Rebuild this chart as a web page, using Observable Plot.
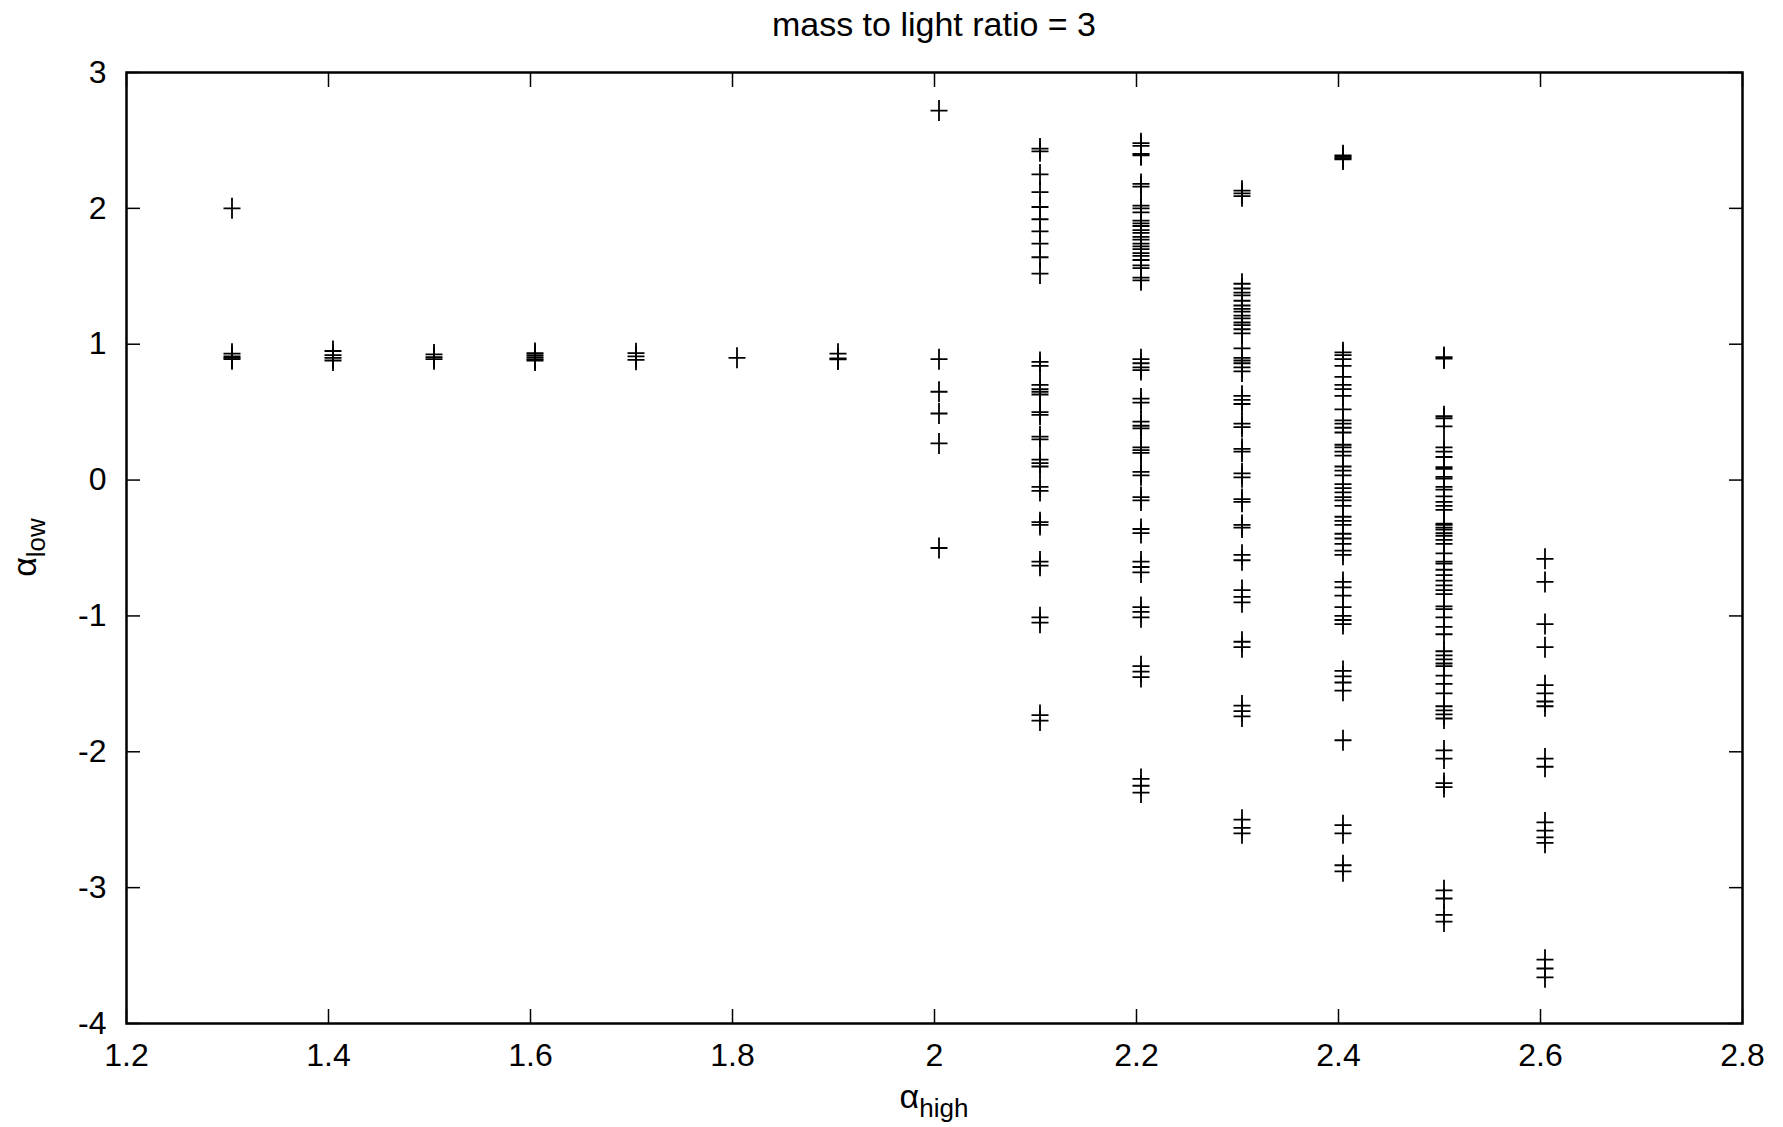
<!DOCTYPE html>
<html><head><meta charset="utf-8">
<script src="https://cdn.jsdelivr.net/npm/d3@7"></script>
<script src="https://cdn.jsdelivr.net/npm/@observablehq/plot@0.6"></script>
<style>
html,body{margin:0;padding:0;background:#fff;overflow:hidden;}
#title{height:50px;margin-left:126px;width:1616px;text-align:center;font:34px "Liberation Sans",Arial,sans-serif;line-height:48px;color:#000;}
#chart svg{display:block;}
</style></head><body>
<div id="title">mass to light ratio = 3</div>
<div id="chart"></div>
<script>
// alpha_high values of each column
const alphaHigh = [1.3, 1.4, 1.5, 1.6, 1.7, 1.8, 1.9, 2.0, 2.1, 2.2, 2.3, 2.4, 2.5, 2.6];
// alpha_low values read per column
const col13 = [2.0, 0.93, 0.91, 0.90, 0.89];
const col14 = [0.95, 0.92, 0.90, 0.88];
const col15 = [0.925, 0.905, 0.89];
const col16 = [0.935, 0.92, 0.905, 0.89, 0.88];
const col17 = [0.934, 0.91, 0.885];
const col18 = [0.90];
const col19 = [0.93, 0.895, 0.888];
const col20 = [2.72, 0.89, 0.65, 0.49, 0.27, -0.50];
const col21 = [2.44, 2.42, 2.25, 2.12, 2.01, 1.92, 1.83, 1.74, 1.64, 1.52, 0.87, 0.84, 0.70, 0.67, 0.65, 0.63, 0.50, 0.48, 0.32, 0.30, 0.15, 0.125, 0.10, -0.05, -0.08, -0.31, -0.33, -0.60, -0.63, -1.01, -1.05, -1.73, -1.77];
const col22 = [2.48, 2.46, 2.40, 2.39, 2.18, 2.16, 2.02, 2.00, 1.97, 1.91, 1.89, 1.87, 1.84, 1.82, 1.79, 1.77, 1.74, 1.72, 1.70, 1.67, 1.65, 1.62, 1.58, 1.56, 1.49, 1.47, 0.89, 0.86, 0.83, 0.81, 0.60, 0.57, 0.43, 0.40, 0.38, 0.24, 0.22, 0.20, 0.06, 0.035, -0.125, -0.15, -0.36, -0.39, -0.60, -0.64, -0.68, -0.935, -0.97, -1.01, -1.37, -1.41, -1.45, -2.20, -2.25, -2.30];
const col23 = [2.13, 2.11, 2.09, 1.445, 1.41, 1.38, 1.36, 1.32, 1.285, 1.26, 1.24, 1.21, 1.19, 1.16, 1.14, 1.11, 1.08, 0.97, 0.90, 0.88, 0.86, 0.83, 0.80, 0.62, 0.59, 0.56, 0.415, 0.39, 0.23, 0.21, 0.05, 0.02, -0.14, -0.16, -0.33, -0.35, -0.55, -0.59, -0.81, -0.86, -0.90, -1.19, -1.23, -1.66, -1.70, -1.74, -2.50, -2.56, -2.60];
const col24 = [2.39, 2.38, 2.37, 2.36, 0.94, 0.92, 0.89, 0.84, 0.76, 0.70, 0.67, 0.62, 0.52, 0.44, 0.415, 0.385, 0.35, 0.26, 0.24, 0.21, 0.18, 0.10, 0.07, 0.035, -0.03, -0.06, -0.09, -0.125, -0.15, -0.19, -0.27, -0.30, -0.33, -0.395, -0.43, -0.47, -0.52, -0.55, -0.75, -0.79, -0.85, -0.935, -1.00, -1.03, -1.06, -1.405, -1.445, -1.49, -1.55, -1.915, -2.54, -2.60, -2.835, -2.88];
const col25 = [0.905, 0.895, 0.47, 0.455, 0.395, 0.24, 0.21, 0.17, 0.095, 0.083, 0.023, 0.011, -0.05, -0.07, -0.12, -0.16, -0.19, -0.22, -0.32, -0.33, -0.35, -0.365, -0.39, -0.41, -0.44, -0.47, -0.54, -0.60, -0.615, -0.66, -0.70, -0.74, -0.775, -0.81, -0.84, -0.93, -0.95, -1.01, -1.08, -1.135, -1.26, -1.29, -1.32, -1.35, -1.37, -1.44, -1.50, -1.57, -1.665, -1.695, -1.725, -1.755, -1.99, -2.05, -2.23, -2.26, -3.02, -3.08, -3.20, -3.25];
const col26 = [-0.58, -0.75, -1.06, -1.23, -1.51, -1.57, -1.63, -1.665, -2.05, -2.11, -2.52, -2.58, -2.63, -2.67, -3.53, -3.595, -3.66];
const xTicks = [1.2, 1.4, 1.6, 1.8, 2.0, 2.2, 2.4, 2.6, 2.8];
const yTicks = [-4, -3, -2, -1, 0, 1, 2, 3];

const columns = [col13, col14, col15, col16, col17, col18, col19, col20, col21, col22, col23, col24, col25, col26];
const points = columns.flatMap((ys, i) => ys.map(y => ({high: alphaHigh[i], low: y})));

const plusSymbol = {
  draw(ctx) { ctx.moveTo(-8.5, 0); ctx.lineTo(8.5, 0); ctx.moveTo(0, -10.5); ctx.lineTo(0, 10.5); }
};

const W = 1783, H = 1077;
const font = "'Liberation Sans', Arial, Helvetica, sans-serif";
const chart = Plot.plot({
  width: W, height: H,
  marginTop: 22, marginBottom: 104, marginLeft: 126, marginRight: 41,
  style: {fontFamily: font, fontSize: "32px", color: "#000", background: "#fff"},
  x: {domain: [1.2, 2.8], label: null},
  y: {domain: [-4, 3], label: null},
  marks: [
    Plot.axisX({ticks: xTicks, tickSize: -14, tickPadding: 34, strokeWidth: 1.5, tickFormat: d => String(d), label: null, fontSize: 32}),
    Plot.axisX({anchor: "top", ticks: xTicks, tickSize: -14, strokeWidth: 1.5, tickFormat: () => "", label: null}),
    Plot.axisY({ticks: yTicks, tickSize: -14, tickPadding: 34, strokeWidth: 1.5, tickFormat: d => String(d), label: null, fontSize: 32}),
    Plot.axisY({anchor: "right", ticks: yTicks, tickSize: -14, strokeWidth: 1.5, tickFormat: () => "", label: null}),
    Plot.dot(points, {x: "high", y: "low", dx: 4.5, symbol: plusSymbol, stroke: "#000", fill: "none", strokeWidth: 1.8}),
    Plot.frame({stroke: "#000", strokeWidth: 2.5})
  ]
});
document.getElementById("chart").appendChild(chart);

const svg = d3.select(chart);
// x axis label: alpha_high
const xl = svg.append("text")
  .attr("x", (126 + W - 41) / 2).attr("y", 1058)
  .attr("text-anchor", "middle").attr("font-family", font).attr("fill", "#000");
xl.append("tspan").attr("font-size", 34).text("α");
xl.append("tspan").attr("font-size", 26).attr("dy", 9).text("high");
// y axis label: alpha_low
const yl = svg.append("text")
  .attr("transform", `translate(36,${(22 + H - 104) / 2}) rotate(-90)`)
  .attr("text-anchor", "middle").attr("font-family", font).attr("fill", "#000");
yl.append("tspan").attr("font-size", 34).text("α");
yl.append("tspan").attr("font-size", 26).attr("dy", 9).text("low");
</script>
</body></html>
